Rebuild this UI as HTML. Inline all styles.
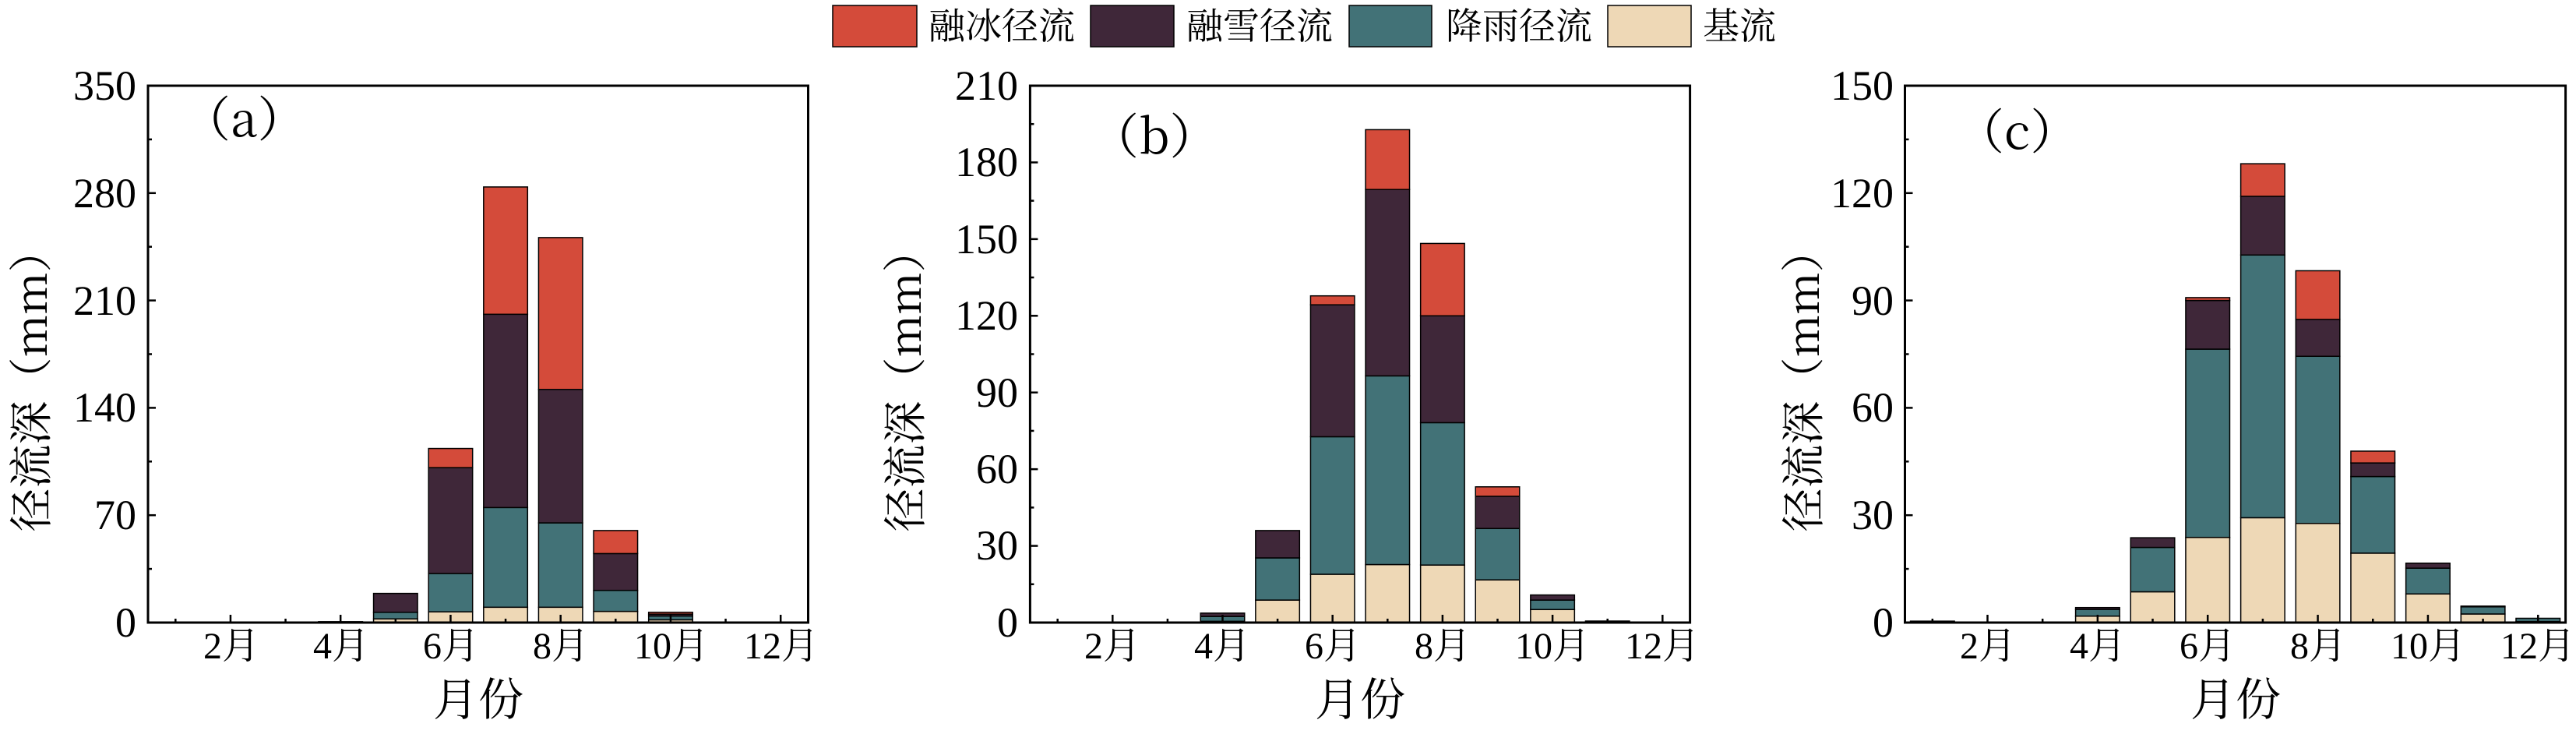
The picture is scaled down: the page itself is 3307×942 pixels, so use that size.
<!DOCTYPE html>
<html><head><meta charset="utf-8">
<style>
html,body{margin:0;padding:0;background:#fff;}
svg{display:block;}
text{fill:#000;}
.tk{font-family:"Liberation Serif","Noto Serif CJK SC",serif;font-size:54px;}
.mo{font-family:"Liberation Serif","Noto Serif CJK SC",serif;font-size:48px;}
.cj{font-family:"Noto Serif CJK SC","Liberation Serif",serif;}
</style></head><body>
<svg id="s" width="3307" height="942" viewBox="0 0 3307 942" xmlns="http://www.w3.org/2000/svg">
<g id="bars"></g>
<!-- legend -->
<rect x="1069" y="7" width="108" height="53" fill="#D44B3A" stroke="#000" stroke-width="1.5"/>
<text class="cj" x="1192" y="50" font-size="47">融冰径流</text>
<rect x="1400" y="7" width="107" height="53" fill="#3F2739" stroke="#000" stroke-width="1.5"/>
<text class="cj" x="1523" y="50" font-size="47">融雪径流</text>
<rect x="1732" y="7" width="106" height="53" fill="#427277" stroke="#000" stroke-width="1.5"/>
<text class="cj" x="1856" y="50" font-size="47">降雨径流</text>
<rect x="2064" y="7" width="107" height="53" fill="#EED8B6" stroke="#000" stroke-width="1.5"/>
<text class="cj" x="2186" y="50" font-size="47">基流</text>

<!-- panel a labels -->
<g class="tk" text-anchor="end">
<text x="175" y="128">350</text><text x="175" y="266">280</text><text x="175" y="404">210</text>
<text x="175" y="541">140</text><text x="175" y="679">70</text><text x="175" y="817">0</text>
</g>
<text class="cj" x="234" y="175" font-size="62">（a）</text>
<text class="cj" transform="translate(60,488) rotate(-90)" text-anchor="middle" font-size="56">径流深（mm）</text>
<text class="cj" x="614" y="918" text-anchor="middle" font-size="58">月份</text>

<!-- panel b labels -->
<g class="tk" text-anchor="end">
<text x="1307" y="128">210</text><text x="1307" y="226">180</text><text x="1307" y="325">150</text>
<text x="1307" y="423">120</text><text x="1307" y="522">90</text><text x="1307" y="620">60</text>
<text x="1307" y="718">30</text><text x="1307" y="817">0</text>
</g>
<text class="cj" x="1400" y="197" font-size="62">（b）</text>
<text class="cj" transform="translate(1182,488) rotate(-90)" text-anchor="middle" font-size="56">径流深（mm）</text>
<text class="cj" x="1746" y="918" text-anchor="middle" font-size="58">月份</text>

<!-- panel c labels -->
<g class="tk" text-anchor="end">
<text x="2431" y="128">150</text><text x="2431" y="266">120</text><text x="2431" y="404">90</text>
<text x="2431" y="541">60</text><text x="2431" y="679">30</text><text x="2431" y="817">0</text>
</g>
<text class="cj" x="2511" y="191" font-size="62">（c）</text>
<text class="cj" transform="translate(2335,488) rotate(-90)" text-anchor="middle" font-size="56">径流深（mm）</text>
<text class="cj" x="2870" y="918" text-anchor="middle" font-size="58">月份</text>

<g id="months" class="mo" text-anchor="middle">
<text x="297" y="845">2月</text><text x="438" y="845">4月</text><text x="579" y="845">6月</text><text x="720" y="845">8月</text><text x="862" y="845">10月</text><text x="1003" y="845">12月</text>
<text x="1428" y="845">2月</text><text x="1569" y="845">4月</text><text x="1711" y="845">6月</text><text x="1852" y="845">8月</text><text x="1993" y="845">10月</text><text x="2134" y="845">12月</text>
<text x="2552" y="845">2月</text><text x="2693" y="845">4月</text><text x="2834" y="845">6月</text><text x="2976" y="845">8月</text><text x="3117" y="845">10月</text><text x="3258" y="845">12月</text>
</g>
</svg>
<script>
(function(){
var NS="http://www.w3.org/2000/svg";
var g=document.getElementById("bars");
var cols=["#EED8B6","#427277","#3F2739","#D44B3A"];
function el(t,a){var e=document.createElementNS(NS,t);for(var k in a)e.setAttribute(k,a[k]);g.appendChild(e);return e;}
var yT=110,yB=799;
var P=[
 {x0:190,x1:1037.5,max:350,step:70,d:{
  4:[0,0,0.6,0.6],5:[2.4,6.7,19,19],6:[7,32,101,113.5],7:[10,75,201,284],8:[10,65,152,251],9:[7.3,21,45,60],10:[1.8,4.3,5.5,6.7]}},
 {x0:1322.4,x1:2169.6,max:210,step:30,d:{
  4:[0.5,2.4,3.7,3.7],5:[8.8,25.3,36,36],6:[18.9,72.7,124.3,127.8],7:[22.7,96.5,169.4,192.8],8:[22.5,78.2,120,148.3],9:[16.7,36.8,49.4,53.1],10:[5.1,8.8,10.8,10.8],11:[0,0,0.6,0.6]}},
 {x0:2445.5,x1:3293.6,max:150,step:30,d:{
  1:[0,0,0.4,0.4],4:[1.8,3.7,4.2,4.2],5:[8.6,21,23.7,23.7],6:[23.8,76.4,90,90.8],7:[29.3,102.7,119.1,128.2],8:[27.7,74.4,84.7,98.3],9:[19.4,40.8,44.6,47.9],10:[8,15.2,16.6,16.6],11:[2.4,4.4,4.6,4.6],12:[0.3,1.2,1.2,1.2]}}
];
P.forEach(function(p){
 var w=(p.x1-p.x0)/12, sc=(yB-yT)/p.max;
 for(var m in p.d){
  var v=p.d[m], cx=p.x0+(m-0.5)*w, bw=0.8*w, prev=0;
  for(var i=0;i<4;i++){
   var top=v[i]; if(top-prev<=0.001){continue;}
   el("rect",{x:cx-bw/2,y:yB-top*sc,width:bw,height:(top-prev)*sc,fill:cols[i],stroke:"#000","stroke-width":1.5});
   prev=top;
  }
 }
 // frame
 el("rect",{x:p.x0,y:yT,width:p.x1-p.x0,height:yB-yT,fill:"none",stroke:"#000","stroke-width":3});
 // y ticks
 var n=p.max/p.step;
 for(var k=0;k<=2*n;k++){
  var y=yB-k*(p.step/2)*sc, L=(k%2==0)?10:5;
  el("line",{x1:p.x0,x2:p.x0+L,y1:y,y2:y,stroke:"#000","stroke-width":2.5});
 }
 for(var mm=1;mm<=12;mm++){
  var x=p.x0+(mm-0.5)*w, L=(mm%2==0)?10:5;
  el("line",{x1:x,x2:x,y1:yB,y2:yB-L,stroke:"#000","stroke-width":2.5});
 }
});
})();
</script>
</body></html>
